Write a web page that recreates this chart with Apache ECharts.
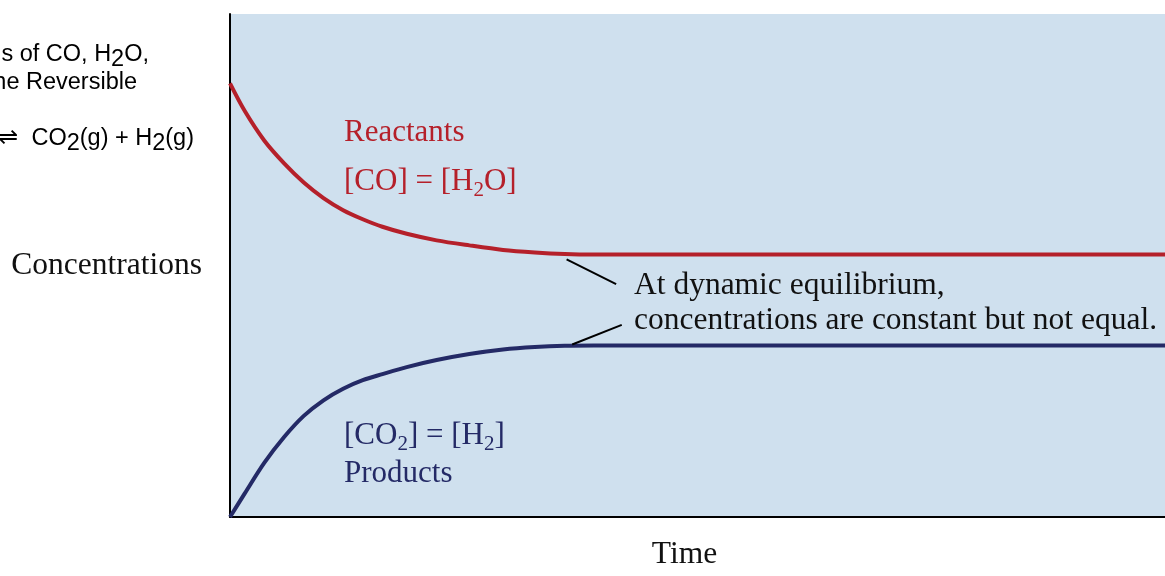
<!DOCTYPE html>
<html>
<head>
<meta charset="utf-8">
<title>Concentrations over time</title>
<script src="https://cdn.jsdelivr.net/npm/echarts@6/dist/echarts.min.js"></script>
<style>
  html, body { margin: 0; padding: 0; background: #ffffff; overflow: hidden; }
  #chart { width: 1165px; height: 576px; }
</style>
</head>
<body>
<div id="chart"></div>
<script>
// Time samples (arbitrary units) shared by both curves
const times = [0, 1.58, 3.68, 5.79, 7.89, 10, 12.1, 14.2, 16.3, 18.9, 22.1, 25.6, 29.2, 32.6, 35.8, 38.9, 50, 70, 100];
// Reactants: [CO] = [H2O]
const reactants = [86.2, 80.7, 74.8, 70.3, 66.5, 63.4, 61.0, 59.2, 57.7, 56.3, 55.0, 54.0, 53.1, 52.6, 52.3, 52.2, 52.2, 52.2, 52.2];
// Products: [CO2] = [H2]
const products = [0, 4.7, 10.8, 15.9, 20.1, 23.2, 25.5, 27.2, 28.4, 29.8, 31.2, 32.4, 33.3, 33.8, 34.05, 34.1, 34.1, 34.1, 34.1];
// Leader lines from the equilibrium note to the two flat curves
const leaderTop = [[36.0, 51.2], [41.3, 46.3]];
const leaderBottom = [[36.6, 34.3], [41.9, 38.2]];

const RED = '#b5202a';
const BLUE = '#242a66';
const SERIF = '"Liberation Serif", "DejaVu Serif", serif';
const SANS = '"Liberation Sans", Arial, sans-serif';

const pair = (vals) => times.map((t, i) => [t, vals[i]]);

const chart = echarts.init(document.getElementById('chart'), null, { renderer: 'canvas', width: 1165, height: 576 });

function serifText(x, y, rich, fill, size, align) {
  return {
    type: 'text',
    x: x, y: y,
    z: 100,
    silent: true,
    style: {
      text: rich,
      fill: fill,
      fontFamily: SERIF,
      fontSize: size,
      align: align || 'left',
      verticalAlign: 'middle',
      lineHeight: 40,
      rich: {
        s: { fontFamily: SERIF, fontSize: size * 0.68, fill: fill, padding: [16, 0, 0, 0], lineHeight: 40 }
      }
    }
  };
}

function sansText(x, y, rich) {
  return {
    type: 'text',
    x: x, y: y,
    z: 100,
    silent: true,
    style: {
      text: rich,
      fill: '#000000',
      fontFamily: SANS,
      fontSize: 23.5,
      align: 'right',
      verticalAlign: 'middle',
      lineHeight: 34,
      rich: {
        s: { fontFamily: SANS, fontSize: 23.5, fill: '#000000', padding: [10, 0, 0, 0], lineHeight: 34 }
      }
    }
  };
}

const option = {
  animation: false,
  backgroundColor: '#ffffff',
  grid: {
    left: 230, top: 14, height: 508, width: 950,
    show: true,
    backgroundColor: '#cfe0ee',
    borderWidth: 0
  },
  xAxis: {
    type: 'value',
    min: 0, max: 100,
    name: 'Time',
    nameLocation: 'middle',
    nameGap: 22,
    nameTextStyle: { fontFamily: SERIF, fontSize: 31.5, color: '#111111', padding: [0, 26, 0, 0] },
    axisLine: { show: true, onZero: false, lineStyle: { color: '#000000', width: 2 } },
    axisTick: { show: false },
    axisLabel: { show: false },
    splitLine: { show: false }
  },
  yAxis: {
    type: 'value',
    min: 0, max: 100,
    name: 'Concentrations',
    nameLocation: 'middle',
    nameRotate: 0,
    nameGap: 28,
    nameTextStyle: { fontFamily: SERIF, fontSize: 31.5, color: '#111111' },
    axisLine: { show: true, onZero: false, lineStyle: { color: '#000000', width: 2 } },
    axisTick: { show: false },
    axisLabel: { show: false },
    splitLine: { show: false }
  },
  series: [
    {
      name: 'Reactants',
      type: 'line',
      data: pair(reactants),
      smooth: 0.3,
      showSymbol: false,
      lineStyle: { color: RED, width: 4 },
      z: 3,
      markLine: {
        silent: true,
        symbol: 'none',
        label: { show: false },
        lineStyle: { color: '#000000', width: 2, type: 'solid' },
        data: [
          [{ coord: leaderTop[0] }, { coord: leaderTop[1] }],
          [{ coord: leaderBottom[0] }, { coord: leaderBottom[1] }]
        ]
      }
    },
    {
      name: 'Products',
      type: 'line',
      data: pair(products),
      smooth: 0.3,
      showSymbol: false,
      lineStyle: { color: BLUE, width: 4 },
      z: 3
    }
  ],
  graphic: [
    // Caption at the upper left
    sansText(149, 55, 'Changes in Concentrations of CO, H{s|2}O,'),
    sansText(137, 83, 'CO{s|2}, and H{s|2} over Time for the Reversible'),
    sansText(194, 139, 'Reaction CO(g) + H{s|2}O(g) \u21CC  CO{s|2}(g) + H{s|2}(g)'),
    // Curve labels
    serifText(344, 133, 'Reactants', RED, 31),
    serifText(344, 182, '[CO] = [H{s|2}O]', RED, 31),
    serifText(344, 436, '[CO{s|2}] = [H{s|2}]', BLUE, 31),
    serifText(344, 474, 'Products', BLUE, 31),
    // Equilibrium note
    serifText(634, 286, 'At dynamic equilibrium,', '#111111', 31.5),
    serifText(634, 321, 'concentrations are constant but not equal.', '#111111', 31.5)
  ]
};

chart.setOption(option);
</script>
</body>
</html>
